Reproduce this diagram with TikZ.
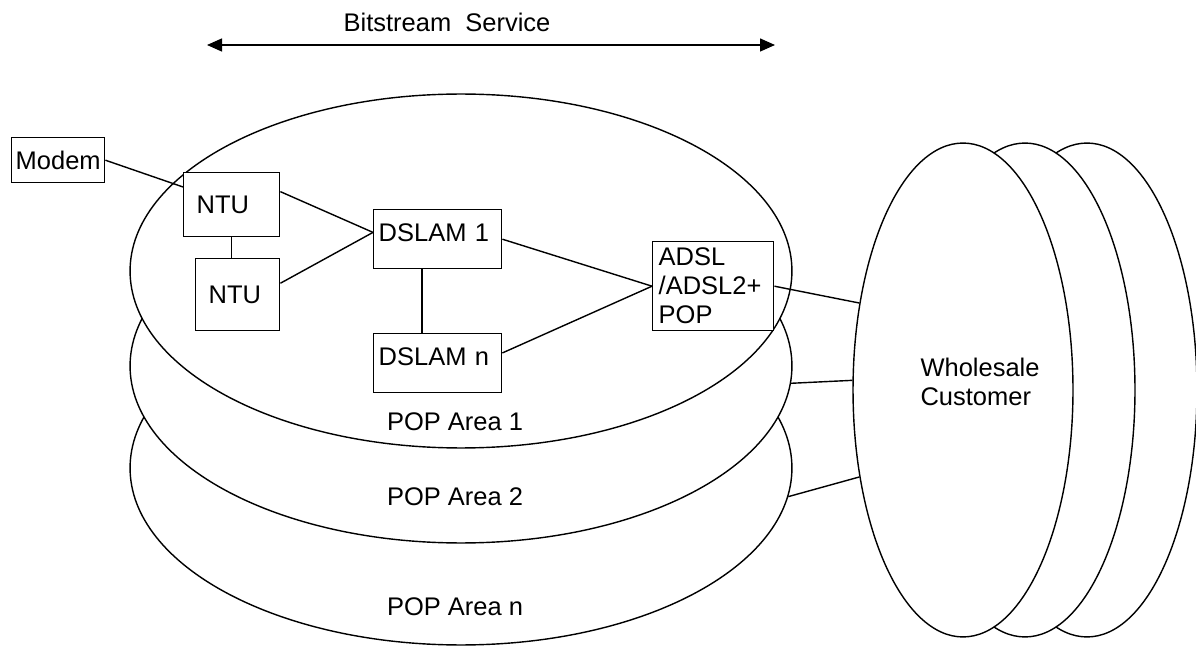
\documentclass[tikz,border=0pt]{standalone}
\usepackage{fontspec}
\setmainfont{Liberation Sans}
\usepackage{tikz}
\usetikzlibrary{arrows.meta}
\usetikzlibrary{shapes.geometric}
\tikzstyle{area}=[draw, ellipse, fill=white, inner sep=0pt]
\tikzstyle{unit}=[draw, rectangle, fill=white, align=left, inner ysep=0pt, inner xsep=0.1cm, anchor=north west]
\tikzstyle{plain}=[font=\fontsize{14.5}{16.5}\selectfont]
\tikzstyle{pixels}=[x=0.02cm, y=-0.02cm, line width=0.8pt, every node/.append style={plain}]

\begin{document}
\begin{tikzpicture}[pixels]
	\useasboundingbox (0,0) rectangle (1196,648);
	\node[area, minimum width=13.24cm, minimum height=7.08cm] (popN) at (461,468) {};
	\node[area, minimum width=13.24cm, minimum height=7.08cm] (popB) at (461,366) {};
	\node[area, minimum width=13.24cm, minimum height=7.08cm] (popA) at (461,271) {};
	\node[area, minimum width=4.4cm, minimum height=9.88cm] (custC) at (1087,390) {};
	\node[area, minimum width=4.4cm, minimum height=9.88cm] (custB) at (1025,390) {};
	\node[area, minimum width=4.4cm, minimum height=9.88cm] (custA) at (963,390) {};
	\node[align=left, anchor=west] (cust) at (914,382) {Wholesale\\Customer};
	\node (areaA) at (455,422) {POP Area 1};
	\node (areaB) at (455,497) {POP Area 2};
	\node (areaN) at (455,607) {POP Area n};
	\node[unit, inner xsep=0.08cm, text width=1.7cm, minimum height=0.9cm] (modem) at (11,137) {Modem};
	\node[unit, inner xsep=0.26cm, text width=1.4cm, minimum height=1.28cm] (ntuA) at (183,172) {NTU};
	\node[unit, inner xsep=0.26cm, text width=1.16cm, minimum height=1.44cm] (ntuB) at (195,258) {NTU};
	\node[unit, text width=2.36cm, text depth=0.28cm, minimum height=1.18cm] (dslamA) at (373,209) {DSLAM 1};
	\node[unit, text width=2.36cm, text depth=0.28cm, minimum height=1.18cm] (dslamB) at (373,333) {DSLAM n};
	\node[unit, inner xsep=0.12cm, text width=2.18cm, minimum height=1.78cm] (adsl) at (652,241) {ADSL\\/ADSL2+\\POP};
	\draw (modem.east) -- (ntuA.160);
	\draw (ntuA.south) -- (ntuA.south |- ntuB.north);
	\draw (ntuA.15) -- (dslamA.174);
	\draw (ntuB.15) -- (dslamA.174);
	\draw ([xshift=0.98cm]dslamA.south west) -- ([xshift=0.98cm]dslamB.north west);
	\draw (dslamA.east) -- (adsl.west);
	\draw (dslamB.9) -- (adsl.west);
	\draw (adsl.east) -- (custA.140);
	\draw (popB.-3) -- (custA.175);
	\draw (popN.-5) -- (custA.220);
	\coordinate (spanL) at (207,45);
	\coordinate (spanR) at (775,45);
	\draw[{Triangle[length=0.3cm, width=0.26cm]}-{Triangle[length=0.3cm, width=0.26cm]}] (spanL) -- (spanR);
	\node (span) at (447,22) {Bitstream\ \ Service};
\end{tikzpicture}
\end{document}
